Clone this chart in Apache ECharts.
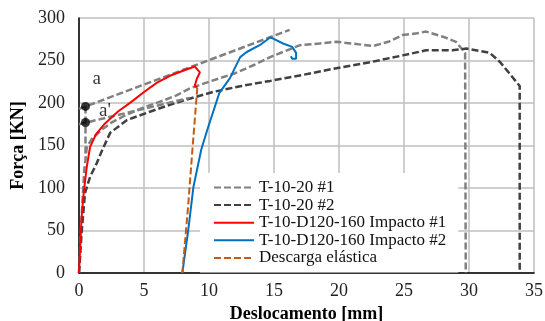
<!DOCTYPE html>
<html><head><meta charset="utf-8">
<script src="https://cdn.jsdelivr.net/npm/echarts@6/dist/echarts.min.js"></script>
<style>html,body{margin:0;padding:0;background:#fff}#c{width:545px;height:321px}</style>
</head><body><div id="c"></div>
<script>
const xTicks = [0,5,10,15,20,25,30,35];
const yTicks = [0,50,100,150,200,250,300];
const seriesNames = ['T-10-20 #1','T-10-20 #2','T-10-D120-160 Impacto #1','T-10-D120-160 Impacto #2','Descarga elástica'];
const t1020_1 = [[0,0],[0.12,40],[0.25,80],[0.4,120],[0.6,148],[1.0,158],[1.7,168],[2.5,177],[3.5,185],[5,195],[6.5,203],[7.5,209],[8.5,217],[10,225],[12,235],[13.5,245],[14.7,254],[16,262],[17,268],[18.5,270],[19.8,272],[21,270],[22.6,267],[23.8,272],[24.9,280],[26,282],[26.7,284],[28,278],[29,272],[29.7,259],[29.75,0]];
const t1020_2 = [[0,0],[0.2,47],[0.46,94],[0.85,113],[1.36,129],[1.74,143],[2.4,165],[3.7,180],[5.5,190],[7,198],[8.5,205],[10.3,213],[12.5,220],[14.7,226],[17.2,233],[19.8,241],[22.4,248],[24.9,256],[26.7,262],[28.7,262],[29.8,264],[31.6,259],[32.4,248],[33.1,235],[33.9,220],[33.9,0]];
const impacto1 = [[0,0],[0.08,27],[0.2,66],[0.38,97],[0.6,125],[0.85,148],[1.3,163],[2,176],[3,190],[4,201],[5,213],[6,224],[7,232],[8,238],[8.9,243],[9.3,236],[9.05,228],[8.9,220],[9.1,218]];
const impacto2 = [[7.95,0],[8.4,50],[8.8,101],[9.4,145],[9.9,170],[10.8,212],[11.6,229],[12.4,254],[12.9,260],[13.9,268],[14.7,277],[14.9,276],[15.7,270],[16.4,266],[16.7,259],[16.7,252],[16.4,252],[16.3,255]];
const descarga = [[9.1,218],[8.75,150],[8.4,80],[7.95,0]];
const lineA = [[0,193],[16.2,286]];
const lineA2 = [[0,175],[8.5,206]];
const vertA = [[0.5,196],[0.5,140]];
const dotsA = [[0.5,196],[0.5,177]];

const serif = '"Liberation Serif","Times New Roman",serif';
const chart = echarts.init(document.getElementById('c'));
const dash = [7,3];
chart.setOption({
  animation:false,
  grid:{left:79,right:11,top:18,bottom:48,containLabel:false,outerBoundsMode:'none'},
  xAxis:{type:'value',min:0,max:35,interval:5,
    name:'Deslocamento [mm]',nameLocation:'middle',nameGap:30,
    nameTextStyle:{fontFamily:serif,fontWeight:'bold',fontSize:18,color:'#000'},
    axisLine:{show:true,lineStyle:{color:'#000',width:1.5}},axisTick:{show:false},
    axisLabel:{fontFamily:serif,fontSize:18,color:'#222',margin:9},
    splitLine:{show:true,lineStyle:{color:'#bfbfbf',width:1.5}}},
  yAxis:{type:'value',min:0,max:300,interval:50,
    name:'Força [KN]',nameLocation:'middle',nameGap:52,nameRotate:90,
    nameTextStyle:{fontFamily:serif,fontWeight:'bold',fontSize:18,color:'#000'},
    axisLine:{show:true,lineStyle:{color:'#000',width:1.5}},axisTick:{show:false},
    axisLabel:{fontFamily:serif,fontSize:18,color:'#222',margin:14},
    splitLine:{show:true,lineStyle:{color:'#bfbfbf',width:1.5}}},
  legend:{data:seriesNames,orient:'vertical',left:200,top:173,itemWidth:40,itemHeight:10,itemGap:0.6,
    backgroundColor:'#fff',padding:[6,12,6,13],itemStyle:{opacity:0},
    textStyle:{fontFamily:serif,fontSize:17,lineHeight:17,color:'#111',padding:[0,0,0,0]},z:20},
  series:[
    {name:'T-10-20 #1',type:'line',data:t1020_1,symbol:'none',lineStyle:{color:'#808080',width:2.5,type:dash},itemStyle:{color:'#808080'},z:3},
    {name:'T-10-20 #2',type:'line',data:t1020_2,symbol:'none',lineStyle:{color:'#404040',width:2.5,type:dash},itemStyle:{color:'#404040'},z:3},
    {name:'T-10-D120-160 Impacto #1',type:'line',data:impacto1,symbol:'none',lineStyle:{color:'#ff0000',width:2},itemStyle:{color:'#ff0000'},z:4},
    {name:'T-10-D120-160 Impacto #2',type:'line',data:impacto2,symbol:'none',lineStyle:{color:'#0070c0',width:2},itemStyle:{color:'#0070c0'},z:4},
    {name:'Descarga elástica',type:'line',data:descarga,symbol:'none',lineStyle:{color:'#c55a11',width:2,type:dash},itemStyle:{color:'#c55a11'},z:4},
    {name:'lineA',type:'line',data:lineA,symbol:'none',lineStyle:{color:'#808080',width:2.5,type:dash},z:3},
    {name:'lineA2',type:'line',data:lineA2,symbol:'none',lineStyle:{color:'#808080',width:2.5,type:dash},z:3},
    {name:'vertA',type:'line',data:vertA,symbol:'none',lineStyle:{color:'#808080',width:2.5,type:dash},z:3},
    {name:'dotsA',type:'scatter',data:dotsA,symbol:'circle',symbolSize:9,itemStyle:{color:'#000'},z:6,
      label:{show:true,position:'right',fontFamily:serif,fontSize:19,color:'#000',
        formatter:p=>p.dataIndex===0?'':'a\'',offset:[4,-12]}},
    {name:'labelA',type:'scatter',data:[[0.5,196]],symbolSize:0,z:6,
      label:{show:true,position:'right',fontFamily:serif,fontSize:19,color:'#000',formatter:'a',offset:[2,-27]}}
  ]
});
</script></body></html>
